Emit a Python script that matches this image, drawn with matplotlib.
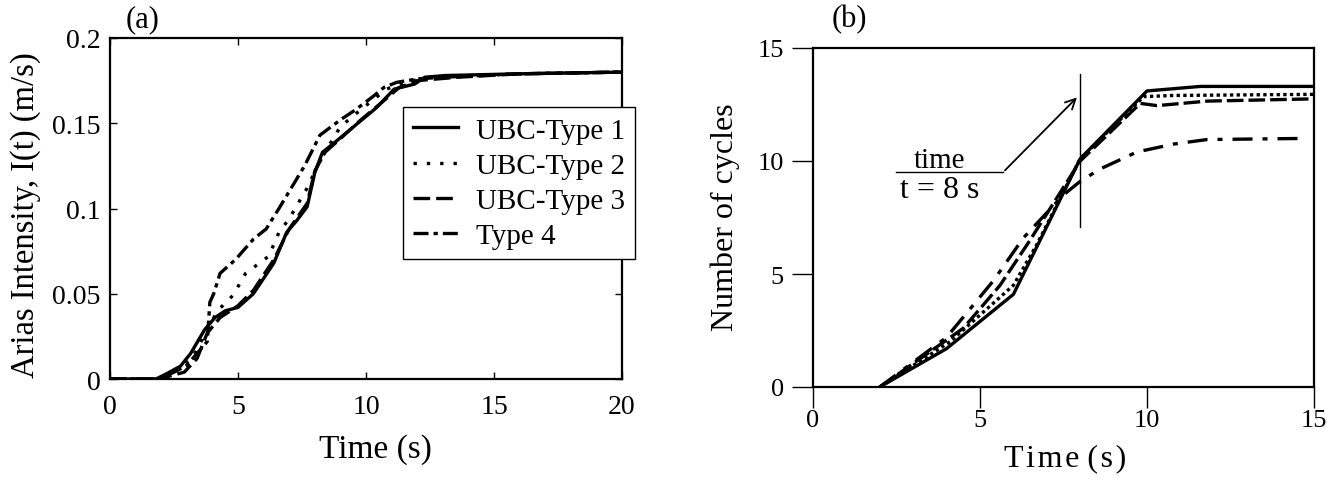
import matplotlib
matplotlib.use("Agg")
import matplotlib.pyplot as plt

plt.rcParams['font.family'] = ['Liberation Serif', 'DejaVu Serif']
plt.rcParams['mathtext.fontset'] = 'stix'

# ---- panel (a): Arias intensity ----
t_a1 = [0, 1.8, 2.2, 2.75, 3.15, 3.7, 4.1, 4.5, 5.0, 5.6, 6.4, 6.9, 7.3, 7.7, 8.0, 8.3, 8.8, 9.6, 10.4, 11.1, 11.9, 12.3, 13.1, 16.0, 20.0]
i_a1 = [0, 0, 0.003, 0.0075, 0.015, 0.029, 0.036, 0.040, 0.042, 0.050, 0.068, 0.086, 0.093, 0.101, 0.121, 0.133, 0.139, 0.149, 0.159, 0.170, 0.173, 0.177, 0.178, 0.179, 0.180]

t_a2 = [0, 1.9, 2.6, 3.2, 3.7, 4.2, 4.8, 5.3, 6.2, 6.6, 7.0, 7.7, 8.2, 9.0, 9.8, 10.8, 11.5, 12.5, 16.0, 20.0]
i_a2 = [0, 0, 0.005, 0.012, 0.026, 0.040, 0.049, 0.062, 0.072, 0.086, 0.094, 0.112, 0.128, 0.148, 0.158, 0.170, 0.174, 0.177, 0.179, 0.180]

t_a3 = [0, 1.9, 2.9, 3.4, 3.8, 4.3, 5.0, 5.6, 6.4, 7.0, 7.7, 8.0, 8.4, 9.0, 9.8, 10.6, 11.3, 12.0, 13.6, 16.0, 20.0]
i_a3 = [0, 0, 0.004, 0.012, 0.027, 0.036, 0.043, 0.052, 0.070, 0.088, 0.103, 0.122, 0.133, 0.141, 0.152, 0.162, 0.171, 0.175, 0.177, 0.179, 0.180]

t_a4 = [0, 1.9, 2.5, 3.0, 3.4, 3.8, 3.9, 4.05, 4.3, 4.9, 5.6, 6.1, 6.6, 7.0, 7.6, 8.2, 9.0, 9.6, 10.3, 10.7, 11.2, 12.0, 13.0, 16.0, 20.0]
i_a4 = [0, 0, 0.004, 0.008, 0.015, 0.022, 0.045, 0.050, 0.062, 0.070, 0.082, 0.088, 0.100, 0.110, 0.125, 0.143, 0.152, 0.158, 0.166, 0.171, 0.174, 0.176, 0.177, 0.179, 0.180]

labels_a = ["UBC-Type 1", "UBC-Type 2", "UBC-Type 3", "Type 4"]

# ---- panel (b): number of cycles ----
t_b1 = [2.0, 4.0, 6.0, 8.0, 10.0, 11.6, 15.0]
n_b1 = [0, 1.7, 4.1, 10.1, 13.1, 13.3, 13.3]

t_b2 = [2.0, 4.1, 6.0, 6.7, 8.0, 9.9, 10.8, 15.0]
n_b2 = [0, 2.0, 4.5, 6.3, 10.1, 12.85, 12.9, 12.95]

t_b3 = [2.0, 4.5, 5.6, 6.5, 8.0, 9.8, 10.3, 11.8, 15.0]
n_b3 = [0, 2.6, 4.5, 6.5, 10.0, 12.55, 12.45, 12.65, 12.75]

t_b4 = [2.0, 4.0, 5.4, 6.3, 7.5, 8.0, 8.6, 9.7, 10.8, 11.8, 14.8]
n_b4 = [0, 2.2, 4.7, 6.6, 8.5, 9.1, 9.65, 10.4, 10.75, 10.95, 11.0]

W, H = 1339, 481
fig = plt.figure(figsize=(W / 100, H / 100), dpi=100)

# ===============================
# (a) Arias intensity
# ===============================
ax1 = fig.add_axes([110 / W, 1 - 380 / H, 512 / W, 341 / H])
lw = 2.4
ax1.plot(t_a1, i_a1, color='black', lw=lw, ls='-', label=labels_a[0])
ax1.plot(t_a2, i_a2, color='black', lw=lw, ls=(0, (1, 3)), label=labels_a[1])
ax1.plot(t_a3, i_a3, color='black', lw=lw, ls=(0, (5, 1.8)), label=labels_a[2])
ax1.plot(t_a4, i_a4, color='black', lw=lw, ls=(0, (4.5, 1.5, 1.3, 1.5)), label=labels_a[3])
ax1.set_xlim(0, 20)
ax1.set_ylim(0, 0.2)
ax1.set_xticks([0, 5, 10, 15, 20])
ax1.set_yticks([0, 0.05, 0.1, 0.15, 0.2])
ax1.set_yticklabels(["0", "0.05", "0.1", "0.15", "0.2"])
ax1.tick_params(direction='in', length=5, width=1, top=True, right=True, labelsize=20)
ax1.tick_params(axis='x', pad=11)
ax1.tick_params(axis='y', pad=7)
for s in ax1.spines.values():
    s.set_linewidth(1.6)
ax1.set_xlabel("Time (s)", fontsize=24)
ax1.set_ylabel("Arias Intensity, I(t) (m/s)", fontsize=23.5)
ax1.xaxis.set_label_coords(0.518, -0.16)
ax1.yaxis.set_label_coords(-0.135, 0.484)
leg = ax1.legend(loc='upper left', bbox_to_anchor=(403 / W, 1 - 108 / H),
                 bbox_transform=fig.transFigure, fontsize=21, frameon=True,
                 fancybox=False, framealpha=1, edgecolor='black', borderaxespad=0,
                 handlelength=1.55, labelspacing=0.3, borderpad=0.35, handletextpad=0.6)
leg.get_frame().set_linewidth(1.0)
fig.text(143 / W, 1 - 20 / H, "(a)", fontsize=22, ha='center', va='center')

# ===============================
# (b) Number of cycles
# ===============================
ax2 = fig.add_axes([813 / W, 1 - 388 / H, 501 / W, 339 / H])
lw2 = 2.4
ax2.plot(t_b1, n_b1, color='black', lw=lw2, ls='-')
ax2.plot(t_b2, n_b2, color='black', lw=lw2, ls=(0, (1, 1)))
ax2.plot(t_b3, n_b3, color='black', lw=lw2, ls=(0, (5, 1.5)))
ax2.plot(t_b4, n_b4, color='black', lw=lw2, ls=(0, (6, 3, 1.5, 3)))
ax2.set_xlim(0, 15)
ax2.set_ylim(0, 15)
ax2.set_xticks([0, 5, 10, 15])
ax2.set_yticks([0, 5, 10, 15])
ax2.tick_params(direction='out', length=15, width=1, labelsize=19)
ax2.tick_params(axis='x', pad=1)
ax2.tick_params(axis='y', pad=6)
for s in ax2.spines.values():
    s.set_linewidth(1.6)
ax2.set_xlabel("T\u200ai\u200am\u200ae (\u200as\u200a)", fontsize=23)
ax2.set_ylabel("Number of cycles", fontsize=23)
ax2.xaxis.set_label_coords(0.503, -0.165)
ax2.yaxis.set_label_coords(-0.146, 0.504)

# t = 8 s marker with arrow
ax2.plot([8, 8], [7.1, 13.85], color='black', lw=1.0)
ax2.plot([2.49, 5.69], [9.5, 9.5], color='black', lw=1.0)
ax2.annotate("", xy=(7.96, 12.9), xytext=(5.69, 9.5),
             arrowprops=dict(arrowstyle='->', color='black', lw=1.3, mutation_scale=18))
ax2.text(3.8, 9.75, "time", fontsize=21, ha='center', va='baseline')
ax2.text(3.8, 9.4, "t = 8 s", fontsize=23, ha='center', va='top')
fig.text(849 / W, 1 - 20 / H, "(b)", fontsize=22, ha='center', va='center')

fig.savefig("out.png", dpi=100)
